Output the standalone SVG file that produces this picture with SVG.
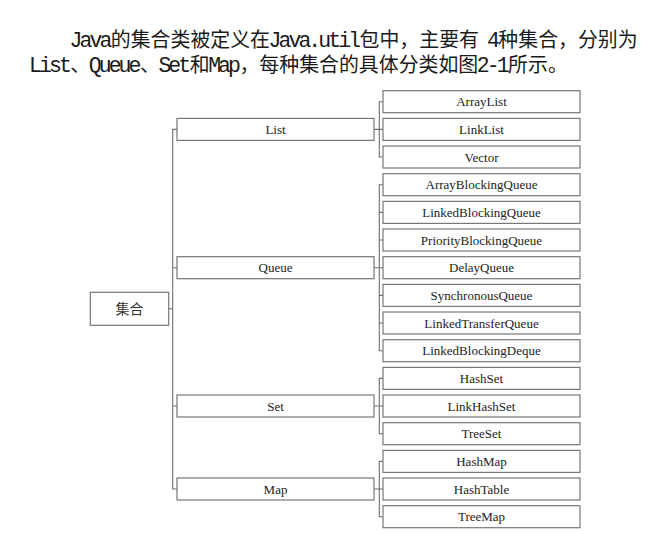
<svg xmlns="http://www.w3.org/2000/svg" width="662" height="534" viewBox="0 0 662 534">
<style>
.intro{text-anchor:middle;fill:#1a1a1a}
.cjk{font-family:"Noto Sans CJK SC","Noto Sans CJK JP",sans-serif;font-size:19.9px}
.lat{font-family:"Liberation Mono","DejaVu Sans Mono",monospace;font-size:21.5px}
.box{fill:#fff;stroke:#777;stroke-width:1.2}
.lbl{font-family:"Liberation Serif","Times New Roman",serif;font-size:13px;fill:#222;text-anchor:middle}
.conn{fill:none;stroke:#6e6e6e;stroke-width:1.1}
.root{font-family:"Noto Sans CJK SC",sans-serif;font-size:14px;fill:#333;text-anchor:middle}
</style>
<rect width="662" height="534" fill="#fff"/>
<g id="intro">
<text class="intro" y="47"><tspan class="lat" x="75.98 85.93 95.88 105.83">Java</tspan><tspan class="cjk" x="120.75 140.65 160.55 180.45 200.35 220.25 240.15 260.05">的集合类被定义在</tspan><tspan class="lat" x="274.98 284.93 294.88 304.83 314.78 324.73 334.68 344.63 354.58">Java.util</tspan><tspan class="cjk" x="369.5 389.4 409.3 429.2 449.1 469">包中，主要有</tspan><tspan class="lat" x="493.38">4</tspan><tspan class="cjk" x="508.3 528.2 548.1 568 587.9 607.8 627.7">种集合，分别为</tspan></text>
<text class="intro" y="71.5"><tspan class="lat" x="35.48 45.43 55.38 65.33">List</tspan><tspan class="cjk" x="80.25">、</tspan><tspan class="lat" x="95.18 105.13 115.08 125.03 134.98">Queue</tspan><tspan class="cjk" x="149.9">、</tspan><tspan class="lat" x="164.83 174.78 184.73">Set</tspan><tspan class="cjk" x="199.65">和</tspan><tspan class="lat" x="214.58 224.53 234.48">Map</tspan><tspan class="cjk" x="249.4 269.3 289.2 309.1 329 348.9 368.8 388.7 408.6 428.5 448.4 468.3">，每种集合的具体分类如图</tspan><tspan class="lat" x="483.23 493.18 503.13">2-1</tspan><tspan class="cjk" x="518.05 537.95 557.85">所示。</tspan></text>
</g>
<g id="connectors">
<path class="conn" d="M168.7 308.8H172.7M177 129.4H172.7V489H177M172.7 267.7H177M172.7 406H177"/>
<path class="conn" d="M374 129.4H379.3M383 101.7H379.3V157H383M379.3 129.4H383"/>
<path class="conn" d="M374 267.7H379.3M383 184.7H379.3V350.7H383M379.3 212.4H383M379.3 240H383M379.3 267.7H383M379.3 295.4H383M379.3 323H383"/>
<path class="conn" d="M374 406H379.3M383 378.4H379.3V433.7H383M379.3 406H383"/>
<path class="conn" d="M374 489H379.3M383 461.4H379.3V516.7H383M379.3 489H383"/>
</g>
<g id="root"><rect class="box" x="90.3" y="292.3" width="78.4" height="33"/><text class="root" x="129.5" y="313.8">集合</text></g>
<g id="list"><rect class="box" x="177" y="118.4" width="197" height="22"/><text class="lbl" x="275.5" y="133.9">List</text></g>
<g id="queue"><rect class="box" x="177" y="256.7" width="197" height="22"/><text class="lbl" x="275.5" y="272.2">Queue</text></g>
<g id="set"><rect class="box" x="177" y="395" width="197" height="22"/><text class="lbl" x="275.5" y="410.5">Set</text></g>
<g id="map"><rect class="box" x="177" y="478" width="197" height="22"/><text class="lbl" x="275.5" y="493.5">Map</text></g>
<g id="arraylist"><rect class="box" x="383" y="90.7" width="197" height="22"/><text class="lbl" x="481.5" y="106.2">ArrayList</text></g>
<g id="linklist"><rect class="box" x="383" y="118.4" width="197" height="22"/><text class="lbl" x="481.5" y="133.9">LinkList</text></g>
<g id="vector"><rect class="box" x="383" y="146" width="197" height="22"/><text class="lbl" x="481.5" y="161.5">Vector</text></g>
<g id="arrayblockingqueue"><rect class="box" x="383" y="173.7" width="197" height="22"/><text class="lbl" x="481.5" y="189.2">ArrayBlockingQueue</text></g>
<g id="linkedblockingqueue"><rect class="box" x="383" y="201.4" width="197" height="22"/><text class="lbl" x="481.5" y="216.9">LinkedBlockingQueue</text></g>
<g id="priorityblockingqueue"><rect class="box" x="383" y="229" width="197" height="22"/><text class="lbl" x="481.5" y="244.5">PriorityBlockingQueue</text></g>
<g id="delayqueue"><rect class="box" x="383" y="256.7" width="197" height="22"/><text class="lbl" x="481.5" y="272.2">DelayQueue</text></g>
<g id="synchronousqueue"><rect class="box" x="383" y="284.4" width="197" height="22"/><text class="lbl" x="481.5" y="299.9">SynchronousQueue</text></g>
<g id="linkedtransferqueue"><rect class="box" x="383" y="312" width="197" height="22"/><text class="lbl" x="481.5" y="327.5">LinkedTransferQueue</text></g>
<g id="linkedblockingdeque"><rect class="box" x="383" y="339.7" width="197" height="22"/><text class="lbl" x="481.5" y="355.2">LinkedBlockingDeque</text></g>
<g id="hashset"><rect class="box" x="383" y="367.4" width="197" height="22"/><text class="lbl" x="481.5" y="382.9">HashSet</text></g>
<g id="linkhashset"><rect class="box" x="383" y="395" width="197" height="22"/><text class="lbl" x="481.5" y="410.5">LinkHashSet</text></g>
<g id="treeset"><rect class="box" x="383" y="422.7" width="197" height="22"/><text class="lbl" x="481.5" y="438.2">TreeSet</text></g>
<g id="hashmap"><rect class="box" x="383" y="450.4" width="197" height="22"/><text class="lbl" x="481.5" y="465.9">HashMap</text></g>
<g id="hashtable"><rect class="box" x="383" y="478" width="197" height="22"/><text class="lbl" x="481.5" y="493.5">HashTable</text></g>
<g id="treemap"><rect class="box" x="383" y="505.7" width="197" height="22"/><text class="lbl" x="481.5" y="521.2">TreeMap</text></g>
</svg>
